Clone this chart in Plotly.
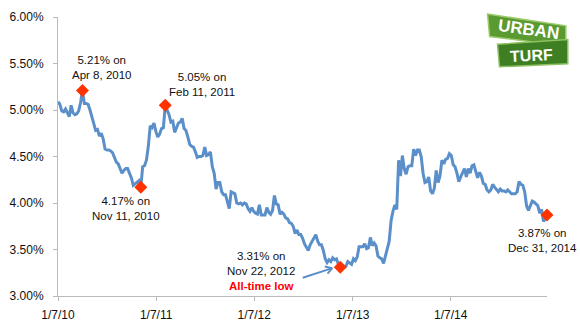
import pandas as pd
import plotly.graph_objects as go

# Weekly 30-year fixed mortgage rates (%)
rates_2010 = [5.09, 5.06, 4.99, 4.98, 5.01, 4.97, 4.93, 5.05, 4.97, 4.95, 4.96, 4.99,
              5.08, 5.21, 5.07, 5.07, 5.06, 5.00, 4.93, 4.84, 4.78, 4.79, 4.72, 4.75,
              4.69, 4.58, 4.57, 4.57, 4.56, 4.54, 4.49, 4.44, 4.42, 4.36, 4.32, 4.35,
              4.37, 4.37, 4.32, 4.27, 4.19, 4.21, 4.23, 4.24, 4.17, 4.39, 4.40, 4.46,
              4.61, 4.83, 4.81, 4.86]
rates_2011 = [4.77, 4.71, 4.74, 4.80, 4.81, 5.05, 5.00, 4.95, 4.87, 4.88, 4.76, 4.81,
              4.86, 4.87, 4.91, 4.80, 4.78, 4.71, 4.63, 4.61, 4.60, 4.55, 4.49, 4.50,
              4.50, 4.51, 4.60, 4.51, 4.52, 4.55, 4.39, 4.32, 4.15, 4.22, 4.22, 4.12,
              4.09, 4.09, 4.01, 3.94, 4.12, 4.11, 4.10, 4.00, 3.99, 4.00, 3.98, 4.00,
              3.99, 3.94, 3.91, 3.95]
rates_2012 = [3.91, 3.89, 3.88, 3.98, 3.87, 3.87, 3.87, 3.95, 3.90, 3.88, 3.92, 4.08,
              3.99, 3.98, 3.88, 3.90, 3.88, 3.84, 3.83, 3.79, 3.78, 3.75, 3.67, 3.71,
              3.66, 3.66, 3.62, 3.56, 3.53, 3.49, 3.55, 3.59, 3.62, 3.66, 3.59, 3.55,
              3.55, 3.49, 3.40, 3.36, 3.39, 3.37, 3.41, 3.39, 3.40, 3.34, 3.31, 3.32,
              3.32, 3.32, 3.37, 3.35]
rates_2013 = [3.34, 3.40, 3.38, 3.42, 3.53, 3.53, 3.53, 3.56, 3.51, 3.52, 3.63, 3.54,
              3.57, 3.54, 3.43, 3.41, 3.40, 3.35, 3.42, 3.51, 3.59, 3.81, 3.91, 3.98,
              3.93, 4.46, 4.29, 4.51, 4.37, 4.31, 4.39, 4.40, 4.40, 4.58, 4.51, 4.57,
              4.57, 4.50, 4.32, 4.22, 4.23, 4.28, 4.13, 4.10, 4.16, 4.35, 4.22, 4.29,
              4.46, 4.42, 4.47, 4.48]
rates_2014 = [4.53, 4.51, 4.41, 4.39, 4.32, 4.23, 4.28, 4.33, 4.37, 4.28, 4.37, 4.32,
              4.40, 4.41, 4.34, 4.27, 4.33, 4.29, 4.21, 4.20, 4.14, 4.12, 4.14, 4.20,
              4.17, 4.14, 4.12, 4.15, 4.13, 4.13, 4.12, 4.14, 4.12, 4.10, 4.10, 4.10,
              4.12, 4.23, 4.20, 4.19, 4.12, 3.97, 3.92, 3.98, 4.02, 4.01, 3.99, 3.97,
              3.89, 3.93, 3.80, 3.83, 3.87]

rates = rates_2010 + rates_2011 + rates_2012 + rates_2013 + rates_2014
dates = list(pd.date_range("2010-01-07", "2014-12-25", freq="7D")) + [pd.Timestamp("2014-12-31")]

highlight_dates = ["2010-04-08", "2010-11-11", "2011-02-10", "2012-11-22", "2014-12-31"]
highlight_labels = ["5.21% on<br>Apr 8, 2010",
                    "4.17% on<br>Nov 11, 2010",
                    "5.05% on<br>Feb 11, 2011",
                    "3.31% on<br>Nov 22, 2012<br><b><span style='color:#FF0000'>All-time low</span></b>",
                    "3.87% on<br>Dec 31, 2014"]
label_shift = [(19, 23), (-15, -21), (37, 21), (-79, -4), (-5, -25)]

tick_dates = ["2010-01-07", "2011-01-07", "2012-01-07", "2013-01-07", "2014-01-07"]
tick_labels = ["1/7/10", "1/7/11", "1/7/12", "1/7/13", "1/7/14"]

series = pd.Series(rates, index=pd.DatetimeIndex(dates))
hx = [pd.Timestamp(d) for d in highlight_dates]
hy = [float(series[d]) for d in hx]

LINE = "#5B8FC9"
fig = go.Figure()
fig.add_trace(go.Scatter(x=dates, y=rates, mode="lines",
                         line=dict(color=LINE, width=3), hoverinfo="skip"))
fig.add_trace(go.Scatter(x=hx, y=hy, mode="markers", cliponaxis=False,
                         marker=dict(symbol="diamond", size=10, color="#FF3300",
                                     line=dict(width=0)), hoverinfo="skip"))

ann = []
for x, y, t, (dx, dy) in zip(hx, hy, highlight_labels, label_shift):
    ann.append(dict(x=x, y=y, xref="x", yref="y", text=t, showarrow=False,
                    xshift=dx, yshift=dy, align="center",
                    xanchor="center", yanchor="middle",
                    font=dict(family="Arial", size=11.5, color="#111111")))

# arrow pointing at the all-time low
low_x, low_y = hx[3], hy[3]
arrow_common = dict(x=low_x, y=low_y, xref="x", yref="y", axref="pixel", ayref="pixel",
                    text="", showarrow=True, arrowhead=0, arrowcolor=LINE,
                    arrowwidth=2, standoff=0, xshift=-8, yshift=-1)
ann.append(dict(arrow_common, ax=-31, ay=10))
ann.append(dict(arrow_common, ax=-9, ay=-2))
ann.append(dict(arrow_common, ax=-6, ay=7))

# UrbanTurf logo (decoration)
def px(x):
    return (x - 53) / 494
def py(y):
    return (296 - y) / 286

def path(pts):
    s = "M " + " L ".join(f"{px(a):.4f},{py(b):.4f}" for a, b in pts) + " Z"
    return s

shapes = [
    dict(type="path", xref="paper", yref="paper",
         path=path([(487, 7), (566, 19), (566, 40), (489, 30)]),
         fillcolor="#5A9A30", line=dict(color="#9CCB6E", width=1.5)),
    dict(type="path", xref="paper", yref="paper",
         path=path([(497, 38), (568, 33), (568, 58), (499, 61)]),
         fillcolor="#3F7F24", line=dict(color="#8FC063", width=1.5)),
]
ann.append(dict(x=px(528), y=py(23), xref="paper", yref="paper", text="<b>URBAN</b>",
                showarrow=False, textangle=8, xanchor="center", yanchor="middle",
                font=dict(family="Liberation Sans", size=17, color="white")))
ann.append(dict(x=px(531), y=py(49), xref="paper", yref="paper", text="<b>TURF</b>",
                showarrow=False, textangle=-3, xanchor="center", yanchor="middle",
                font=dict(family="Liberation Sans", size=16, color="white")))

fig.update_layout(
    width=580, height=335,
    margin=dict(l=53, r=33, t=10, b=39),
    paper_bgcolor="white", plot_bgcolor="white",
    showlegend=False,
    annotations=ann, shapes=shapes,
    font=dict(family="Arial", size=12, color="#111111"),
)
fig.update_xaxes(type="date", range=["2010-01-07", "2014-12-31"],
                 tickvals=tick_dates, ticktext=tick_labels,
                 showgrid=False, zeroline=False, showline=True,
                 linecolor="#BBBBBB", linewidth=1,
                 ticks="outside", ticklen=4, tickcolor="#BBBBBB",
                 tickfont=dict(size=12), ticklabelstandoff=4)
fig.update_yaxes(range=[3.0, 6.0], dtick=0.5, tick0=3.0,
                 tickformat=".2f", ticksuffix="%",
                 showgrid=False, zeroline=False, showline=True,
                 linecolor="#BBBBBB", linewidth=1,
                 ticks="outside", ticklen=4, tickcolor="#BBBBBB",
                 tickfont=dict(size=12), ticklabelstandoff=7)

fig.write_html("out.html")
